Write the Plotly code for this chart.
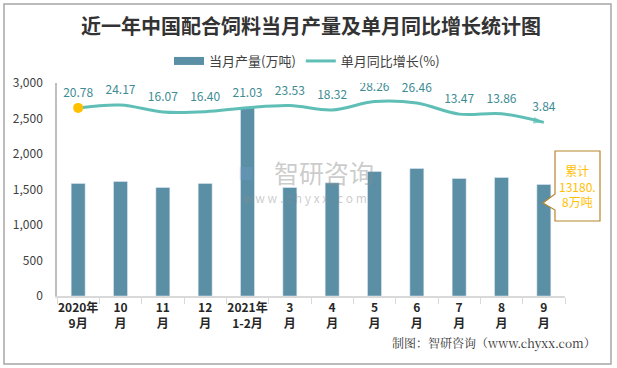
import plotly.graph_objects as go

categories = ["2020年<br>9月", "10<br>月", "11<br>月", "12<br>月", "2021年<br>1-2月", "3<br>月",
              "4<br>月", "5<br>月", "6<br>月", "7<br>月", "8<br>月", "9<br>月"]
output_wt = [1585, 1613, 1528, 1585, 2651, 1528, 1594, 1753, 1796, 1655, 1669, 1570]
growth_pct = [20.78, 24.17, 16.07, 16.40, 21.03, 23.53, 18.32, 28.26, 26.46, 13.47, 13.86, 3.84]
growth_labels = ["20.78", "24.17", "16.07", "16.40", "21.03", "23.53", "18.32", "28.26",
                 "26.46", "13.47", "13.86", "3.84"]
y_ticks = [0, 500, 1000, 1500, 2000, 2500, 3000]

W, H = 617, 368
ML, MR, MT, MB = 57, 52, 83, 72
PW, PH = W - ML - MR, H - MT - MB

def px(x):
    return (x - ML) / PW

def py(y):
    return (H - MB - y) / PH

BAR = "#5B8FA6"
LINE = "#5FBFB7"
LBL = "#3D8B93"
GOLD = "#FFC000"

fig = go.Figure()
fig.add_trace(go.Bar(x=categories, y=output_wt, name="当月产量(万吨)", marker_color=BAR,
                     yaxis="y", showlegend=False))
# legend-only entry giving the wide bar swatch
fig.add_trace(go.Scatter(x=[None], y=[None], name="当月产量(万吨)", mode="lines",
                         line=dict(color=BAR, width=8), yaxis="y"))
fig.add_trace(go.Scatter(x=categories, y=growth_pct, name="单月同比增长(%)", mode="lines",
                         line=dict(color=LINE, width=3, shape="spline", smoothing=1),
                         yaxis="y2"))
fig.add_trace(go.Scatter(x=categories, y=growth_pct, mode="text", showlegend=False,
                         text=growth_labels, textposition="top center",
                         textfont=dict(color=LBL, size=12), yaxis="y3"))
fig.add_trace(go.Scatter(x=categories[:1], y=growth_pct[:1], mode="markers", showlegend=False,
                         marker=dict(color=GOLD, size=10), yaxis="y2"))
fig.add_trace(go.Scatter(x=categories[-2:], y=growth_pct[-2:], mode="markers", showlegend=False,
                         marker=dict(color=LINE, size=[0, 11], symbol="arrow",
                                     angleref="previous", line=dict(width=0)), yaxis="y2"))

# outer frame and callout box
shapes = [
    dict(type="rect", xref="paper", yref="paper", x0=px(4), x1=px(611), y0=py(364), y1=py(4),
         line=dict(color="#A6A6A6", width=1.5), fillcolor="rgba(0,0,0,0)", layer="below"),
]
pts = [(555, 151), (600, 151), (600, 221), (555, 221), (555, 210), (543, 203), (555, 194)]
path = "M " + " L ".join(f"{px(a):.5f},{py(b):.5f}" for a, b in pts) + " Z"
shapes.append(dict(type="path", xref="paper", yref="paper", path=path,
                   line=dict(color="#B8862B", width=1.2), fillcolor="white", layer="above"))

annotations = [
    dict(text="累计<br>13180.<br>8万吨", x=px(577.5), y=py(186), xref="paper", yref="paper",
         xanchor="center", yanchor="middle",
         showarrow=False, font=dict(color=GOLD, size=12), align="center"),
    dict(text="制图：智研咨询（www.chyxx.com）", x=px(598), y=py(354), xref="paper", yref="paper",
         xanchor="right", showarrow=False, font=dict(color="#333333", size=12,
                                                        family="Noto Serif CJK SC, Noto Sans CJK SC")),
    dict(text="智研咨询", x=px(324), y=py(172), xref="paper", yref="paper", showarrow=False,
         xanchor="center", yanchor="middle",
         font=dict(color="rgba(140,140,140,0.45)", size=25, family="Noto Sans CJK SC")),
    dict(text="■", x=px(246), y=py(172), xref="paper", yref="paper", showarrow=False,
         xanchor="center", yanchor="middle",
         font=dict(color="rgba(120,160,210,0.3)", size=16)),
    dict(text="w w w . c h y x x . c o m", x=px(305), y=py(197), xref="paper", yref="paper",
         xanchor="center", yanchor="middle",
         showarrow=False, font=dict(color="rgba(140,140,140,0.45)", size=12)),
]

fig.update_layout(
    width=W, height=H,
    margin=dict(l=ML, r=MR, t=MT, b=MB, autoexpand=False),
    paper_bgcolor="white", plot_bgcolor="white",
    font=dict(family="Noto Sans CJK SC, Microsoft YaHei, sans-serif", color="#404040"),
    title=dict(text="<b>近一年中国配合饲料当月产量及单月同比增长统计图</b>", x=0.5, xref="paper",
               xanchor="center", y=1 - 27 / H, yanchor="middle",
               font=dict(size=20, color="#333333", family="Noto Sans CJK SC")),
    bargap=0.67,
    showlegend=True,
    legend=dict(orientation="h", x=px(307), xanchor="center", y=py(61), yanchor="middle",
                font=dict(size=13, color="#404040"), bgcolor="rgba(0,0,0,0)",
                itemwidth=30, tracegroupgap=0),
    xaxis=dict(type="category", range=[-0.5, len(categories) - 0.5], showgrid=False,
               showline=True, linecolor="#D9D9D9", linewidth=1.5,
               ticks="outside", tickson="boundaries", ticklen=6, tickcolor="#D9D9D9",
               tickfont=dict(size=12, color="#262626", family="Noto Sans CJK SC"),
               tickangle=0, automargin=False),
    yaxis=dict(range=[0, 3000], tickvals=y_ticks, tickformat=",", showgrid=False, zeroline=False,
               showline=True, linecolor="#BFBFBF", linewidth=1.5, ticks="",
               ticklabelstandoff=10, tickfont=dict(size=12, color="#404040"), automargin=False),
    yaxis2=dict(range=[-200, 50], overlaying="y", visible=False, showgrid=False),
    yaxis3=dict(range=[-209.4, 40.6], overlaying="y", visible=False, showgrid=False),
    shapes=shapes,
    annotations=annotations,
)
fig.update_xaxes(tickprefix="<b>", ticksuffix="</b>")

fig.write_html("out.html", config={"displayModeBar": False},
               post_script="document.body.style.margin='0';document.body.style.overflow='hidden';")
